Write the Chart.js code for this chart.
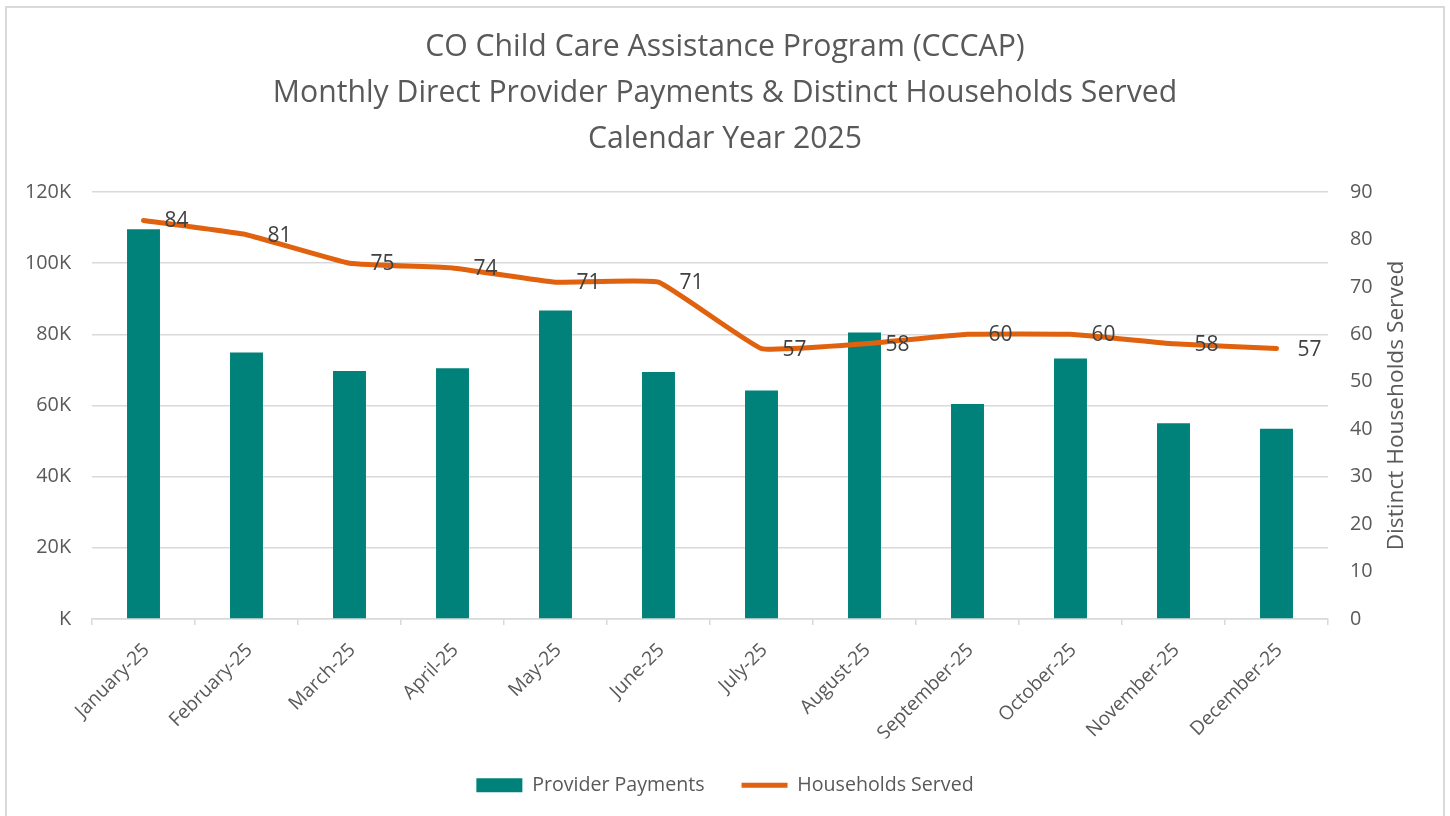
<!DOCTYPE html>
<html>
<head>
<meta charset="utf-8">
<script src="https://cdn.jsdelivr.net/npm/chart.js@4.4.1/dist/chart.umd.min.js"></script>
<style>
  html, body { margin: 0; padding: 0; background: #ffffff; width: 1450px; height: 816px; overflow: hidden; }
  #frame { position: absolute; left: 5px; top: 6px; width: 1440px; height: 860px; border: 2px solid #d9d9d9; box-sizing: border-box; }
  #wrap { position: absolute; left: 0; top: 0; width: 1450px; height: 816px; }
</style>
</head>
<body>
<div id="frame"></div>
<div id="wrap"><canvas id="chart" width="1450" height="816"></canvas></div>
<script>
// ---- data ----
const months = ['January-25', 'February-25', 'March-25', 'April-25', 'May-25', 'June-25',
                'July-25', 'August-25', 'September-25', 'October-25', 'November-25', 'December-25'];
const providerPayments = [109500, 74900, 69700, 70500, 86700, 69400, 64200, 80500, 60400, 73200, 55000, 53500];
const householdsServed = [84, 81, 75, 74, 71, 71, 57, 58, 60, 60, 58, 57];
const leftTickLabels = ['K', '20K', '40K', '60K', '80K', '100K', '120K'];
const rightTickLabels = ['0', '10', '20', '30', '40', '50', '60', '70', '80', '90'];
const titleLines = ['CO Child Care Assistance Program (CCCAP)',
                    'Monthly Direct Provider Payments & Distinct Households Served',
                    'Calendar Year 2025'];
const seriesNames = ['Provider Payments', 'Households Served'];
const rightAxisTitle = 'Distinct Households Served';

// ---- styling helpers ----
const FAMILY = '"Open Sans", "Liberation Sans", Arial, sans-serif';
const mctx = document.createElement('canvas').getContext('2d');
function fit(text, target) {
  mctx.font = '100px ' + FAMILY;
  return Math.round(1000 * target / mctx.measureText(text).width) / 10;
}
const titleSize = fit(titleLines[1], 905);
const tickSize = fit('120K', 46);
const legendSize = fit(seriesNames[0], 172);
const labelSize = fit('57', 24);
const axisTitleSize = fit(rightAxisTitle, 290);
const xTickSize = fit('December-25', 121);

const TEXT = '#595959';
const GRID = '#d9d9d9';
const BAR = '#00827A';
const LINE = '#E0620F';

const LEGEND_PAD = 37;
const CANVAS_H = 816;
const BOTTOM_PAD = 11;
const PLOT_BOTTOM = 619;

const extras = {
  id: 'extras',
  afterDatasetsDraw(chart) {
    const ctx = chart.ctx;
    const meta = chart.getDatasetMeta(1);
    ctx.save();
    ctx.font = labelSize + 'px ' + FAMILY;
    ctx.fillStyle = '#404040';
    ctx.textAlign = 'left';
    ctx.textBaseline = 'middle';
    meta.data.forEach((pt, i) => {
      ctx.fillText(String(householdsServed[i]), pt.x + 21, pt.y + 1);
    });
    ctx.restore();
  },
  afterDraw(chart) {
    const s = chart.scales.y1;
    const ctx = chart.ctx;
    ctx.save();
    ctx.translate(s.left + 69, (s.top + s.bottom) / 2);
    ctx.rotate(-Math.PI / 2);
    ctx.font = axisTitleSize + 'px ' + FAMILY;
    ctx.fillStyle = TEXT;
    ctx.textAlign = 'center';
    ctx.textBaseline = 'middle';
    ctx.fillText(rightAxisTitle, 0, 0);
    ctx.restore();
  }
};

new Chart(document.getElementById('chart'), {
  data: {
    labels: months,
    datasets: [
      {
        type: 'bar',
        label: seriesNames[0],
        data: providerPayments,
        backgroundColor: BAR,
        borderWidth: 0,
        yAxisID: 'y',
        order: 1,
        categoryPercentage: 1,
        barPercentage: 0.32,
        pointStyle: 'rect'
      },
      {
        type: 'line',
        label: seriesNames[1],
        data: householdsServed,
        borderColor: LINE,
        backgroundColor: LINE,
        borderWidth: 5,
        borderCapStyle: 'round',
        borderJoinStyle: 'round',
        tension: 0.1,
        pointRadius: 0,
        pointHoverRadius: 0,
        yAxisID: 'y1',
        order: 0,
        pointStyle: 'line'
      }
    ]
  },
  options: {
    responsive: false,
    animation: false,
    devicePixelRatio: 1,
    layout: { padding: { top: 0, left: 0, right: 0, bottom: BOTTOM_PAD } },
    font: { family: FAMILY },
    plugins: {
      tooltip: { enabled: false },
      title: {
        display: true,
        text: titleLines,
        color: TEXT,
        font: { family: FAMILY, size: titleSize, weight: 'normal', lineHeight: 46 / titleSize },
        padding: { top: 24, bottom: 30 }
      },
      legend: {
        position: 'bottom',
        labels: {
          usePointStyle: true,
          pointStyleWidth: 46,
          boxHeight: 14,
          padding: LEGEND_PAD,
          color: TEXT,
          font: { family: FAMILY, size: legendSize },
          sort: (a, b) => a.datasetIndex - b.datasetIndex
        }
      }
    },
    scales: {
      x: {
        offset: true,
        grid: { display: true, drawOnChartArea: false, drawTicks: true, tickLength: 6, offset: true, color: GRID, lineWidth: 1.5 },
        border: { display: true, color: GRID, width: 1.5 },
        ticks: {
          autoSkip: false, minRotation: 45, maxRotation: 45, padding: 14, labelOffset: 3,
          color: TEXT, font: { family: FAMILY, size: xTickSize }
        },
        afterFit: (s) => {
          const legendH = Math.max(14, legendSize) + LEGEND_PAD + 10;
          s.height = CANVAS_H - BOTTOM_PAD - legendH - PLOT_BOTTOM;
        }
      },
      y: {
        position: 'left',
        min: 0, max: 120000,
        ticks: {
          stepSize: 20000, padding: 21, color: TEXT,
          font: { family: FAMILY, size: tickSize },
          callback: (v, i) => leftTickLabels[i]
        },
        grid: { color: GRID, lineWidth: 1.5, drawTicks: false },
        border: { display: false },
        afterFit: (s) => { s.width = 92; }
      },
      y1: {
        position: 'right',
        min: 0, max: 90,
        ticks: {
          stepSize: 10, padding: 22, color: TEXT,
          font: { family: FAMILY, size: tickSize },
          callback: (v, i) => rightTickLabels[i]
        },
        grid: { drawOnChartArea: false, drawTicks: false },
        border: { display: false },
        afterFit: (s) => { s.width = 122; }
      }
    }
  },
  plugins: [extras]
});
</script>
</body>
</html>
